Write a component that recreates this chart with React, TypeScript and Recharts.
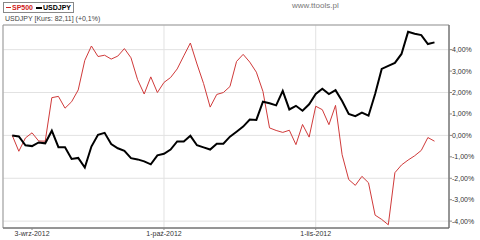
import { LineChart, Line, XAxis, YAxis, CartesianGrid, ReferenceArea, Legend } from 'recharts';

const dates = [
  '29-sie-2012', '30-sie-2012', '31-sie-2012',
  '3-wrz-2012', '4-wrz-2012', '5-wrz-2012', '6-wrz-2012', '7-wrz-2012',
  '10-wrz-2012', '11-wrz-2012', '12-wrz-2012', '13-wrz-2012', '14-wrz-2012',
  '17-wrz-2012', '18-wrz-2012', '19-wrz-2012', '20-wrz-2012', '21-wrz-2012',
  '24-wrz-2012', '25-wrz-2012', '26-wrz-2012', '27-wrz-2012', '28-wrz-2012',
  '1-paź-2012', '2-paź-2012', '3-paź-2012', '4-paź-2012', '5-paź-2012',
  '8-paź-2012', '9-paź-2012', '10-paź-2012', '11-paź-2012', '12-paź-2012',
  '15-paź-2012', '16-paź-2012', '17-paź-2012', '18-paź-2012', '19-paź-2012',
  '22-paź-2012', '23-paź-2012', '24-paź-2012', '25-paź-2012', '26-paź-2012',
  '29-paź-2012', '30-paź-2012', '31-paź-2012',
  '1-lis-2012', '2-lis-2012',
  '5-lis-2012', '6-lis-2012', '7-lis-2012', '8-lis-2012', '9-lis-2012',
  '12-lis-2012', '13-lis-2012', '14-lis-2012', '15-lis-2012', '16-lis-2012',
  '19-lis-2012', '20-lis-2012', '21-lis-2012', '22-lis-2012', '23-lis-2012',
  '26-lis-2012', '27-lis-2012',
];

// zmiana % od początku okresu
const sp500 = [
  0, -0.74, -0.12, 0.12, -0.26, -0.27, 1.76, 1.82, 1.27, 1.57,
  2.12, 3.5, 4.17, 3.68, 3.74, 3.56, 3.7, 4.05, 3.62, 2.6,
  1.93, 2.73, 2.0, 2.47, 2.7, 3.1, 3.71, 4.31, 3.33, 2.42,
  1.32, 1.91, 2.0, 2.28, 3.45, 3.78, 3.42, 2.95, 2.05, 0.35,
  0.23, 0.14, 0.24, -0.43, 0.51, -0.08, 1.36, 1.2, 0.5, 1.4,
  -0.9, -2.06, -2.33, -1.91, -2.21, -3.72, -3.92, -4.17, -1.74, -1.38,
  -1.15, -0.95, -0.7, -0.1, -0.27,
];

const usdjpy = [
  0, -0.05, -0.46, -0.5, -0.33, -0.37, 0.22, -0.55, -0.55, -1.1,
  -1.05, -1.5, -0.52, 0.03, 0.12, -0.4, -0.6, -0.72, -1.06, -1.12,
  -1.21, -1.35, -0.93, -0.86, -0.66, -0.28, -0.28, -0.02, -0.46, -0.56,
  -0.66, -0.39, -0.39, -0.06, 0.17, 0.41, 0.74, 0.72, 1.57, 1.5,
  1.4, 2.08, 1.21, 1.38, 1.15, 1.45, 1.93, 2.18, 1.93, 2.11,
  1.6, 1.0, 0.9, 1.06, 0.92, 1.93, 3.1, 3.24, 3.38, 3.8,
  4.83, 4.74, 4.68, 4.26, 4.34,
];

const xTickDates = ['3-wrz-2012', '1-paź-2012', '1-lis-2012'];
const yTicks = [-4, -3, -2, -1, 0, 1, 2, 3, 4];

const data = dates.map((d, i) => ({ i, date: d, sp500: sp500[i], usdjpy: usdjpy[i] }));
const xTicks = xTickDates.map((d) => dates.indexOf(d));

const X_DOMAIN: [number, number] = [-1.4, 66.2];
const Y_DOMAIN: [number, number] = [-4.32, 5.15];

const font = '"Liberation Sans", Arial, sans-serif';

function LegendBox() {
  return (
    <div
      style={{
        display: 'inline-flex',
        alignItems: 'center',
        border: '1px solid #888',
        padding: '0 2px',
        height: 9,
        fontSize: 7,
        fontWeight: 'bold',
        fontFamily: font,
        background: '#fff',
      }}
    >
      <span style={{ display: 'inline-block', width: 5, height: 1, background: '#d02020', marginRight: 1 }} />
      <span style={{ color: '#d02020', marginRight: 3 }}>SP500</span>
      <span style={{ display: 'inline-block', width: 6, height: 2, background: '#000', marginRight: 1 }} />
      <span style={{ color: '#000' }}>USDJPY</span>
    </div>
  );
}

export default function App() {
  return (
    <div style={{ position: 'absolute', top: 0, left: 0, width: 480, height: 240, background: '#fff', fontFamily: font }}>
      <div style={{ position: 'absolute', top: 1, left: 292, fontSize: 8, color: '#777' }}>www.ttools.pl</div>
      <div style={{ position: 'absolute', top: 15, left: 5, fontSize: 7, color: '#444', zIndex: 2 }}>
        USDJPY [Kurs: 82,11] (+0,1%)
      </div>
      <LineChart width={480} height={240} data={data} margin={{ top: 14, right: 0, left: 3, bottom: 0 }}>
        <CartesianGrid stroke="#e2e2e2" verticalPoints={undefined} />
        <ReferenceArea x1={X_DOMAIN[0]} x2={X_DOMAIN[1]} y1={Y_DOMAIN[0]} y2={Y_DOMAIN[1]} fill="none" stroke="#999" strokeWidth={1} />
        <XAxis
          type="number"
          dataKey="i"
          domain={X_DOMAIN}
          ticks={xTicks}
          tickFormatter={(v) => dates[v]}
          height={12}
          tick={{ fontSize: 7, fill: '#333', fontFamily: font }}
          tickSize={2}
          tickMargin={1}
          axisLine={{ stroke: '#666' }}
          tickLine={{ stroke: '#888' }}
          allowDataOverflow
        />
        <YAxis
          orientation="right"
          type="number"
          domain={Y_DOMAIN}
          ticks={yTicks}
          tickFormatter={(v) => `${v.toFixed(2).replace('.', ',')}%`}
          width={31}
          tick={{ fontSize: 7, fill: '#333', fontFamily: font, textAnchor: 'start' }}
          tickSize={3}
          tickMargin={0}
          axisLine={{ stroke: '#666' }}
          tickLine={{ stroke: '#888' }}
          allowDataOverflow
        />
        <Legend
          verticalAlign="top"
          align="left"
          wrapperStyle={{ top: 2, left: 3, width: 'auto', lineHeight: 0 }}
          content={() => <LegendBox />}
        />
        <Line
          type="linear"
          dataKey="sp500"
          stroke="#d03a3a"
          strokeWidth={1}
          dot={false}
          isAnimationActive={false}
        />
        <Line
          type="linear"
          dataKey="usdjpy"
          stroke="#000"
          strokeWidth={2}
          dot={false}
          isAnimationActive={false}
        />
      </LineChart>
    </div>
  );
}
